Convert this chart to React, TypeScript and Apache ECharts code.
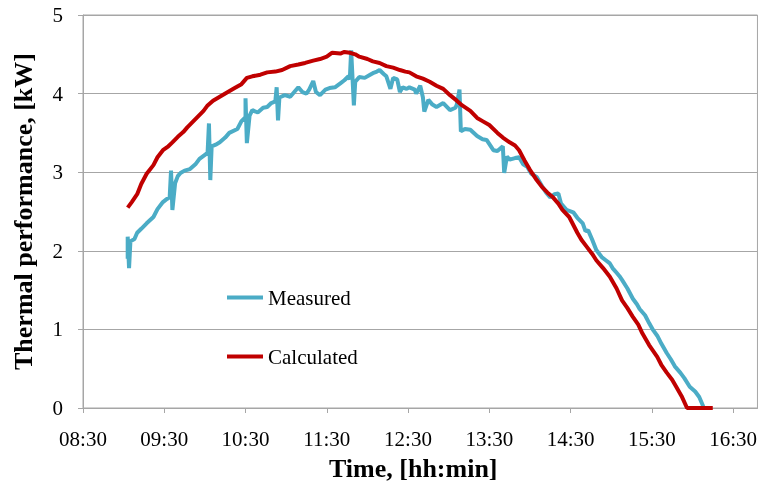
import React, { useEffect, useRef } from "react";
import * as echarts from "echarts";

// Axis settings
const xTickLabels = ["08:30", "09:30", "10:30", "11:30", "12:30", "13:30", "14:30", "15:30", "16:30"];
const xAxisStart = "08:30";
const xAxisEnd = "16:48";
const yTickValues = [0, 1, 2, 3, 4, 5];
const xTitle = "Time, [hh:min]";
const yTitle = "Thermal performance, [kW]";

// Measured thermal performance, kW
const measuredTime = [
  "09:03", "09:03", "09:04", "09:05", "09:08", "09:10", "09:13", "09:17", "09:22", "09:25",
  "09:29", "09:32", "09:34", "09:35", "09:36", "09:38", "09:40", "09:42", "09:45", "09:49",
  "09:53", "09:56", "10:00", "10:02", "10:03", "10:04", "10:05", "10:08", "10:11", "10:15",
  "10:18", "10:24", "10:27", "10:30", "10:30", "10:31", "10:33", "10:35", "10:39", "10:43",
  "10:46", "10:49", "10:52", "10:53", "10:54", "10:55", "10:59", "11:03", "11:06", "11:09",
  "11:12", "11:15", "11:17", "11:20", "11:22", "11:25", "11:29", "11:32", "11:36", "11:40",
  "11:43", "11:46", "11:47", "11:48", "11:50", "11:51", "11:54", "11:58", "12:02", "12:04",
  "12:07", "12:09", "12:12", "12:14", "12:17", "12:19", "12:22", "12:24", "12:26", "12:29",
  "12:31", "12:35", "12:36", "12:39", "12:41", "12:42", "12:45", "12:48", "12:51", "12:56",
  "13:01", "13:05", "13:06", "13:08", "13:09", "13:12", "13:16", "13:21", "13:25", "13:28",
  "13:33", "13:36", "13:40", "13:41", "13:43", "13:45", "13:49", "13:52", "13:55", "13:58",
  "14:01", "14:05", "14:09", "14:12", "14:15", "14:18", "14:21", "14:23", "14:27", "14:32",
  "14:35", "14:39", "14:41", "14:43", "14:46", "14:49", "14:53", "14:56", "14:59", "15:01",
  "15:04", "15:06", "15:08", "15:12", "15:16", "15:19", "15:21", "15:25", "15:28", "15:31",
  "15:34", "15:37", "15:41", "15:44", "15:47", "15:51", "15:54", "15:58", "16:02", "16:05",
  "16:08",
];
const measuredKW = [
  1.9, 2.18, 1.78, 2.12, 2.15, 2.23, 2.28, 2.35, 2.43, 2.53,
  2.62, 2.66, 2.68, 3.02, 2.52, 2.86, 2.95, 2.99, 3.02, 3.04,
  3.1, 3.17, 3.22, 3.25, 3.62, 2.9, 3.33, 3.35, 3.38, 3.44,
  3.5, 3.55, 3.65, 3.7, 3.94, 3.37, 3.72, 3.79, 3.76, 3.82,
  3.83, 3.88, 3.9, 4.08, 3.66, 3.95, 3.98, 3.96, 4.02, 4.08,
  4.02, 4.0, 4.05, 4.16, 4.02, 3.98, 4.05, 4.07, 4.08, 4.13,
  4.17, 4.22, 4.18, 4.55, 3.85, 4.15, 4.21, 4.2, 4.24, 4.26,
  4.28, 4.3, 4.25, 4.22, 4.06, 4.2, 4.18, 4.02, 4.08, 4.06,
  4.08, 4.05, 4.0, 4.1, 3.95, 3.77, 3.92, 3.86, 3.83, 3.88,
  3.79, 3.82, 3.86, 4.05, 3.52, 3.55, 3.54, 3.46, 3.42, 3.41,
  3.28, 3.27, 3.33, 2.99, 3.2, 3.16, 3.18, 3.19, 3.1, 3.07,
  2.98, 2.94, 2.82, 2.74, 2.68, 2.72, 2.73, 2.6, 2.52, 2.49,
  2.42, 2.35, 2.25, 2.26, 2.14, 2.01, 1.92, 1.88, 1.84, 1.78,
  1.72, 1.68, 1.63, 1.52, 1.39, 1.32, 1.26, 1.18, 1.08, 0.99,
  0.92, 0.82, 0.7, 0.62, 0.53, 0.45, 0.38, 0.27, 0.21, 0.14,
  0.02,
];

// Calculated thermal performance, kW
const calculatedTime = [
  "09:03", "09:06", "09:10", "09:13", "09:17", "09:22", "09:25", "09:29", "09:33", "09:36",
  "09:40", "09:44", "09:47", "09:51", "09:55", "09:59", "10:02", "10:06", "10:11", "10:16",
  "10:22", "10:27", "10:31", "10:35", "10:41", "10:46", "10:52", "10:57", "11:03", "11:09",
  "11:14", "11:20", "11:25", "11:30", "11:34", "11:40", "11:43", "11:47", "11:51", "11:54",
  "12:00", "12:04", "12:09", "12:14", "12:19", "12:24", "12:28", "12:31", "12:36", "12:41",
  "12:46", "12:51", "12:56", "13:01", "13:06", "13:10", "13:16", "13:21", "13:25", "13:30",
  "13:36", "13:40", "13:45", "13:49", "13:52", "13:56", "14:00", "14:05", "14:09", "14:13",
  "14:17", "14:21", "14:24", "14:29", "14:35", "14:38", "14:42", "14:46", "14:49", "14:54",
  "14:59", "15:04", "15:08", "15:12", "15:16", "15:20", "15:23", "15:28", "15:34", "15:37",
  "15:41", "15:45", "15:48", "15:52", "15:56", "16:05", "16:15",
];
const calculatedKW = [
  2.55, 2.62, 2.72, 2.85, 2.98, 3.09, 3.19, 3.28, 3.33, 3.38,
  3.45, 3.51, 3.57, 3.64, 3.71, 3.78, 3.85, 3.91, 3.96, 4.01,
  4.07, 4.12, 4.2, 4.22, 4.24, 4.27, 4.28, 4.3, 4.35, 4.37,
  4.39, 4.42, 4.44, 4.47, 4.52, 4.51, 4.53, 4.52, 4.5, 4.47,
  4.44, 4.41, 4.39, 4.35, 4.33, 4.3, 4.28, 4.27, 4.22, 4.19,
  4.15, 4.1, 4.06, 3.98, 3.91, 3.85, 3.78, 3.69, 3.65, 3.6,
  3.5, 3.44, 3.38, 3.34, 3.28, 3.15, 3.03, 2.9, 2.81, 2.74,
  2.68, 2.6, 2.52, 2.43, 2.23, 2.14, 2.05, 1.96, 1.88, 1.78,
  1.67, 1.52, 1.37, 1.27, 1.16, 1.06, 0.95, 0.8, 0.65, 0.55,
  0.45, 0.36, 0.27, 0.15, 0.0, 0.0, 0.0,
];

const toMin = (s: string) => {
  const [h, m] = s.split(":").map(Number);
  return h * 60 + m;
};
const origin = toMin(xAxisStart);
const rel = (s: string) => toMin(s) - origin;
const fmt = (v: number) => {
  const t = Math.round(v + origin);
  const h = Math.floor(t / 60);
  const m = t % 60;
  return `${String(h).padStart(2, "0")}:${String(m).padStart(2, "0")}`;
};

const LABEL_FONT = "serif";
const TITLE_FONT = "Times New Roman";
const GRID_GRAY = "#A6A6A6";

export default function App() {
  const ref = useRef<HTMLDivElement>(null);
  useEffect(() => {
    if (!ref.current) return;
    const chart = echarts.init(ref.current, null, { renderer: "svg" });
    const xTicks = xTickLabels.map(rel);
    const option: any = {
      animation: false,
      grid: {
        left: 83,
        right: 2,
        top: 15,
        bottom: 80,
        show: true,
        borderColor: GRID_GRAY,
      },
      xAxis: {
        type: "value",
        min: 0,
        max: rel(xAxisEnd),
        interval: 60,
        name: xTitle,
        nameLocation: "middle",
        nameGap: 47,
        nameTextStyle: {
          fontFamily: TITLE_FONT,
          fontSize: 26,
          fontWeight: "bold",
          color: "#000",
          padding: [0, 14, 0, 0],
        },
        axisLine: { lineStyle: { color: GRID_GRAY } },
        axisTick: { length: 5, lineStyle: { color: GRID_GRAY }, customValues: xTicks },
        axisLabel: {
          customValues: xTicks,
          formatter: (v: number) => fmt(v),
          fontFamily: LABEL_FONT,
          fontSize: 21,
          color: "#000",
          margin: 20,
        },
        splitLine: { show: false },
      },
      yAxis: {
        type: "value",
        min: yTickValues[0],
        max: yTickValues[yTickValues.length - 1],
        interval: 1,
        name: yTitle,
        nameLocation: "middle",
        nameGap: 47,
        nameTextStyle: {
          fontFamily: TITLE_FONT,
          fontSize: 26,
          fontWeight: "bold",
          color: "#000",
        },
        axisLine: { show: true, lineStyle: { color: GRID_GRAY } },
        axisLabel: { fontFamily: LABEL_FONT, fontSize: 21, color: "#000", margin: 20 },
        splitLine: { lineStyle: { color: GRID_GRAY } },
      },
      legend: [
        {
          data: ["Measured"],
          left: 222,
          top: 282,
          icon: "rect",
          itemWidth: 36,
          itemHeight: 4,
          textStyle: { fontFamily: LABEL_FONT, fontSize: 21, color: "#000" },
        },
        {
          data: ["Calculated"],
          left: 222,
          top: 341,
          icon: "rect",
          itemWidth: 36,
          itemHeight: 4,
          textStyle: { fontFamily: LABEL_FONT, fontSize: 21, color: "#000" },
        },
      ],
      color: ["#4BACC6", "#C00000"],
      series: [
        {
          name: "Measured",
          type: "line",
          data: measuredTime.map((t, i) => [rel(t), measuredKW[i]]),
          symbol: "none",
          lineStyle: { width: 4 },
        },
        {
          name: "Calculated",
          type: "line",
          data: calculatedTime.map((t, i) => [rel(t), calculatedKW[i]]),
          symbol: "none",
          lineStyle: { width: 4 },
        },
      ],
    };
    chart.setOption(option);
    return () => chart.dispose();
  }, []);
  return <div ref={ref} style={{ position: "fixed", left: 0, top: 0, width: 760, height: 488 }} />;
}
